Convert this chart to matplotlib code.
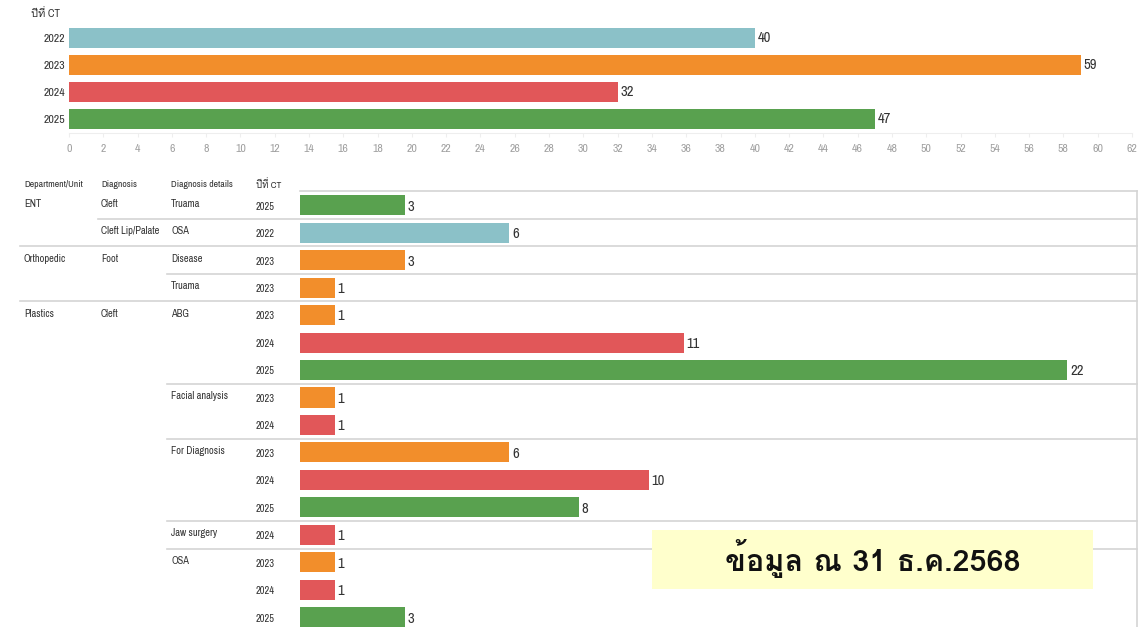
import matplotlib
matplotlib.use("Agg")
import matplotlib.pyplot as plt
from matplotlib import font_manager, transforms
from matplotlib.ft2font import FT2Font
from matplotlib.patches import Rectangle
from matplotlib.lines import Line2D

# ---------------- data ----------------
top_years = ["2022", "2023", "2024", "2025"]
top_counts = [40, 59, 32, 47]

dept = ["ENT", "ENT", "Orthopedic", "Orthopedic"] + ["Plastics"] * 12
diag = ["Cleft", "Cleft Lip/Palate", "Foot", "Foot"] + ["Cleft"] * 12
details = ["Truama", "OSA", "Disease", "Truama",
           "ABG", "ABG", "ABG",
           "Facial analysis", "Facial analysis",
           "For Diagnosis", "For Diagnosis", "For Diagnosis",
           "Jaw surgery",
           "OSA", "OSA", "OSA"]
years = ["2025", "2022", "2023", "2023",
         "2023", "2024", "2025",
         "2023", "2024",
         "2023", "2024", "2025",
         "2024",
         "2023", "2024", "2025"]
counts = [3, 6, 3, 1, 1, 11, 22, 1, 1, 6, 10, 8, 1, 1, 1, 3]

year_colors = {"2022": "#8bc1c8", "2023": "#f28e2b", "2024": "#e15759", "2025": "#59a14f"}

# ---------------- fonts ----------------
ttf = font_manager.fontManager.ttflist
names = {f.name for f in ttf}
narrow = None
for f in ttf:
    if ("Narrow" in f.name or "Condensed" in f.name) and "Bold" not in f.name:
        narrow = f.name
        break
if narrow is None:
    narrow = "Lato" if "Lato" in names else "Liberation Sans"

thai_font = None
thai_bold = None
for f in ttf:
    try:
        cm = FT2Font(f.fname).get_charmap()
    except Exception:
        continue
    if 0x0E02 in cm and 0x0E38 in cm:
        if thai_font is None:
            thai_font = f.name
        if f.weight in (700, "bold") and thai_bold is None:
            thai_bold = f.name
if thai_font is None:
    thai_font = "DejaVu Sans"

small_fam = [narrow, thai_font, "DejaVu Sans"]

W, H = 1139, 627
fig = plt.figure(figsize=(W / 100, H / 100), dpi=100)
fig.patch.set_facecolor("white")

def fx(px):
    return px / W

def fy(py):
    return 1 - py / H

TXT = "#333333"

# ---------------- top chart ----------------
ax1 = fig.add_axes([fx(69), fy(132.5), fx(1132) - fx(69), (132.5 - 24.5) / H])
ypos = list(range(len(top_years)))
ax1.barh(ypos, top_counts, height=0.74,
         color=[year_colors[y] for y in top_years], zorder=3)
ax1.set_xlim(0, 62)
ax1.set_ylim(len(top_years) - 0.5, -0.5)
ax1.set_xticks(range(0, 63, 2))
ax1.set_xticklabels([str(v) for v in range(0, 63, 2)], family=small_fam,
                    fontsize=8.5, color="#a0a0a0")
ax1.set_yticks(ypos)
ax1.set_yticklabels(top_years, family=small_fam, fontsize=8.5, color=TXT)
ax1.tick_params(axis="y", length=0, pad=3)
ax1.tick_params(axis="x", length=3, color="#eeeeee", pad=5)
for s in ["top", "right", "left"]:
    ax1.spines[s].set_visible(False)
ax1.spines["bottom"].set_color("#eeeeee")
for i, v in enumerate(top_counts):
    ax1.text(v + 0.15, i, str(v), va="center", ha="left",
             family=small_fam, fontsize=10.5, color=TXT)
fig.text(fx(31), fy(14), "ปีที่ CT", family=small_fam, fontsize=8,
         color=TXT, va="center", ha="left")

# ---------------- bottom chart ----------------
n = len(counts)
ax2 = fig.add_axes([fx(300), fy(631), fx(1137) - fx(300), 439.5 / H])
rows = list(range(n))
ax2.barh(rows, counts, height=0.73,
         color=[year_colors[y] for y in years], zorder=3)
ax2.set_xlim(0, 24)
ax2.set_ylim(n - 0.5, -0.5)
ax2.set_xticks([])
ax2.set_yticks([])
for s in ["top", "left", "bottom"]:
    ax2.spines[s].set_visible(False)
ax2.spines["right"].set_color("#d4d4d4")
ax2.spines["right"].set_linewidth(1.2)
for i, v in enumerate(counts):
    ax2.text(v + 0.08, i + 0.05, str(v), va="center", ha="left",
             family=small_fam, fontsize=10.5, color=TXT)

bt = transforms.blended_transform_factory(fig.transFigure, ax2.transData)

# header
hdr_y = -0.76
for px, lab in [(24, "Department/Unit"), (101, "Diagnosis"),
                (171, "Diagnosis details"), (256, "ปีที่ CT")]:
    ax2.text(fx(px), hdr_y, lab, transform=bt, family=small_fam, fontsize=7,
             color=TXT, va="center", ha="left", clip_on=False)

# top line of table
ax2.add_line(Line2D([fx(300), fx(1137)], [-0.5, -0.5], transform=bt,
                    color="#d4d4d4", lw=1.2, clip_on=False))

# row labels
for i in range(n):
    new_dept = i == 0 or dept[i] != dept[i - 1]
    new_diag = new_dept or diag[i] != diag[i - 1]
    new_det = new_diag or details[i] != details[i - 1]
    yl = i - 0.05
    if new_dept:
        ax2.text(fx(24), yl, dept[i], transform=bt, family=small_fam,
                 fontsize=7.5, color=TXT, va="center", ha="left", clip_on=False)
    if new_diag:
        ax2.text(fx(101), yl, diag[i], transform=bt, family=small_fam,
                 fontsize=7.5, color=TXT, va="center", ha="left", clip_on=False)
    if new_det:
        ax2.text(fx(171), yl, details[i], transform=bt, family=small_fam,
                 fontsize=7.5, color=TXT, va="center", ha="left", clip_on=False)
    ax2.text(fx(256), i + 0.05, years[i], transform=bt, family=small_fam,
             fontsize=7.5, color=TXT, va="center", ha="left", clip_on=False)

# separators
for i in range(n - 1):
    if dept[i] != dept[i + 1]:
        x0 = 20
    elif diag[i] != diag[i + 1]:
        x0 = 98
    elif details[i] != details[i + 1]:
        x0 = 167
    else:
        continue
    ax2.add_line(Line2D([fx(x0), fx(1137)], [i + 0.5, i + 0.5], transform=bt,
                        color="#d4d4d4", lw=1.2, clip_on=False, zorder=1))

# ---------------- note box ----------------
fig.patches.append(Rectangle((fx(652), fy(589)), fx(1093) - fx(652), (589 - 530) / H,
                             transform=fig.transFigure, facecolor="#ffffcc",
                             edgecolor="none", zorder=5))
fig.text(fx(873), fy(559), "ข้อมูล ณ 31 ธ.ค.2568", family=[thai_bold or thai_font, "DejaVu Sans"],
         fontsize=22, fontweight="bold", color="#111111", ha="center", va="center", zorder=6)

fig.savefig("out.png", dpi=100, facecolor="white")
